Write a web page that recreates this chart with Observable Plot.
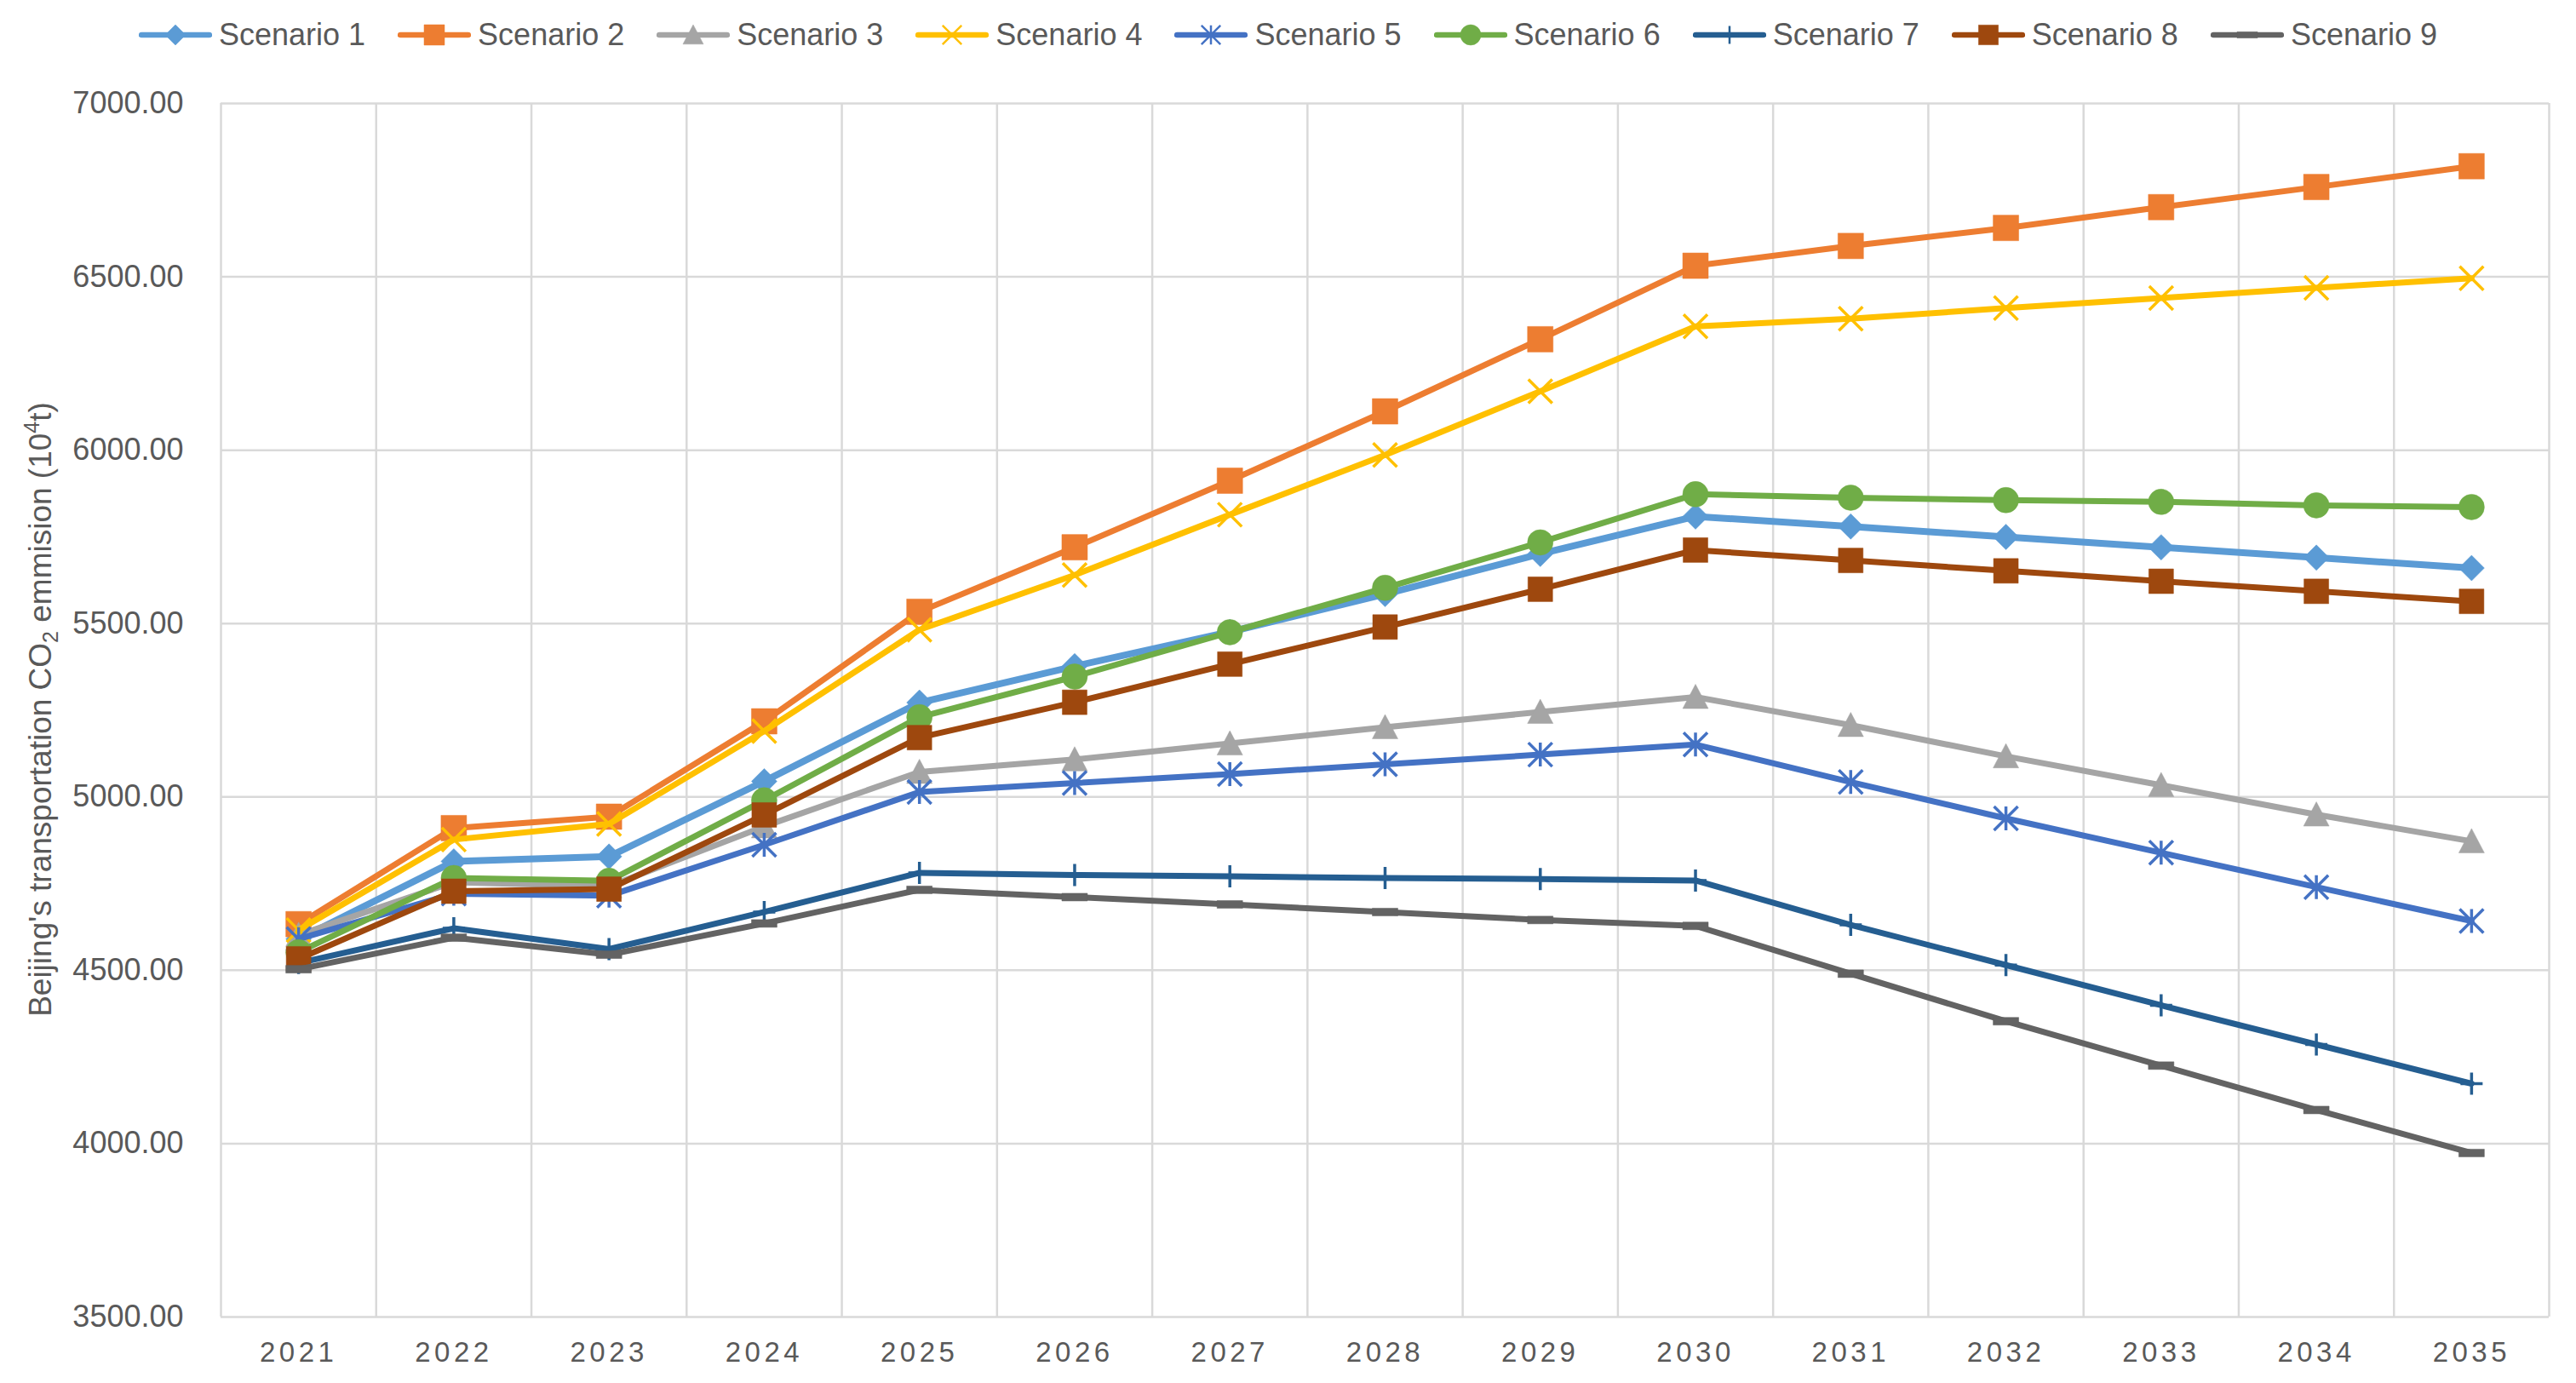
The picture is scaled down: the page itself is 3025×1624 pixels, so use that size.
<!DOCTYPE html>
<html>
<head>
<meta charset="utf-8">
<script src="https://cdn.jsdelivr.net/npm/d3@7"></script>
<script src="https://cdn.jsdelivr.net/npm/@observablehq/plot@0.6"></script>
<style>
  html, body { margin: 0; padding: 0; background: #ffffff; }
  #wrap { position: relative; width: 3025px; height: 1624px; overflow: hidden;
          font-family: "Liberation Sans", Arial, sans-serif; color: #595959; background: #fff; }
  #legend { height: 82px; display: flex; justify-content: center; align-items: center; gap: 38px; }
  .item { display: flex; align-items: center; }
  .item span { font-size: 36px; margin-left: 8px; color: #595959; white-space: nowrap; }
  #ytitle { position: absolute; left: 47px; top: 833px; transform: translate(-50%, -50%) rotate(-90deg);
            font-size: 37px; white-space: nowrap; line-height: 1; color: #595959; }
  #ytitle sub, #ytitle sup { font-size: 25px; line-height: 0; }
  #chart svg { display: block; }
</style>
</head>
<body>
<div id="wrap">
  <div id="legend"></div>
  <div id="chart"></div>
  <div id="ytitle">Beijing's transportation CO<sub>2</sub> emmision (10<sup>4</sup>t)</div>
</div>
<script>
// ---------- data ----------
const years = [2021, 2022, 2023, 2024, 2025, 2026, 2027, 2028, 2029, 2030, 2031, 2032, 2033, 2034, 2035];
const yTicks = [3500, 4000, 4500, 5000, 5500, 6000, 6500, 7000];
const scenarioNames = ["Scenario 1", "Scenario 2", "Scenario 3", "Scenario 4", "Scenario 5",
                       "Scenario 6", "Scenario 7", "Scenario 8", "Scenario 9"];
const scenario1 = [4590, 4814, 4828, 5045, 5272, 5377, 5476, 5585, 5701, 5809, 5780, 5750, 5720, 5690, 5660];
const scenario2 = [4633, 4910, 4943, 5218, 5534, 5720, 5912, 6112, 6320, 6532, 6589, 6641, 6701, 6759, 6819];
const scenario3 = [4602, 4754, 4742, 4915, 5072, 5108, 5154, 5201, 5245, 5288, 5207, 5117, 5034, 4949, 4872];
const scenario4 = [4616, 4877, 4922, 5190, 5482, 5640, 5814, 5986, 6170, 6357, 6379, 6410, 6439, 6468, 6496];
const scenario5 = [4590, 4721, 4715, 4862, 5014, 5040, 5066, 5094, 5122, 5151, 5043, 4938, 4839, 4740, 4642];
const scenario6 = [4552, 4766, 4758, 4990, 5230, 5347, 5475, 5603, 5734, 5873, 5863, 5856, 5851, 5841, 5836];
const scenario7 = [4521, 4621, 4561, 4668, 4781, 4775, 4771, 4766, 4763, 4759, 4631, 4515, 4399, 4286, 4173];
const scenario8 = [4533, 4728, 4734, 4948, 5171, 5273, 5383, 5490, 5599, 5712, 5682, 5652, 5622, 5593, 5564];
const scenario9 = [4503, 4594, 4545, 4635, 4732, 4711, 4690, 4668, 4645, 4628, 4490, 4353, 4225, 4097, 3973];
const seriesValues = [scenario1, scenario2, scenario3, scenario4, scenario5, scenario6, scenario7, scenario8, scenario9];

// ---------- marker shapes (Excel-like) ----------
const rad = size => Math.sqrt(size / Math.PI);
const symDiamond = {draw(c, s) { const r = rad(s); c.moveTo(0, -r); c.lineTo(r, 0); c.lineTo(0, r); c.lineTo(-r, 0); c.closePath(); }};
const symSquare = {draw(c, s) { const r = rad(s); c.rect(-r, -r, 2 * r, 2 * r); }};
const symTriangle = {draw(c, s) { const r = rad(s); c.moveTo(0, -r); c.lineTo(r, r * 0.9); c.lineTo(-r, r * 0.9); c.closePath(); }};
const symTimes = {draw(c, s) { const r = rad(s); c.moveTo(-r, -r); c.lineTo(r, r); c.moveTo(-r, r); c.lineTo(r, -r); }};
const symStar = {draw(c, s) { const r = rad(s); c.moveTo(-r, -r); c.lineTo(r, r); c.moveTo(-r, r); c.lineTo(r, -r); c.moveTo(0, -r); c.lineTo(0, r); }};
const symCircle = {draw(c, s) { const r = rad(s); c.moveTo(r, 0); c.arc(0, 0, r, 0, 2 * Math.PI); }};
const symPlus = {draw(c, s) { const r = rad(s); c.moveTo(-r, 0); c.lineTo(r, 0); c.moveTo(0, -r); c.lineTo(0, r); }};
const symDash = {draw(c, s) { const r = rad(s); const h = r * 0.3; c.rect(-r, -h, 2 * r, 2 * h); }};

const styles = [
  {color: "#5B9BD5", lw: 8, sym: symDiamond, r: 15, filled: true},
  {color: "#ED7D31", lw: 7, sym: symSquare, r: 15, filled: true},
  {color: "#A5A5A5", lw: 7, sym: symTriangle, r: 15, filled: true},
  {color: "#FFC000", lw: 7, sym: symTimes, r: 14, filled: false},
  {color: "#4472C4", lw: 7, sym: symStar, r: 14, filled: false},
  {color: "#70AD47", lw: 7, sym: symCircle, r: 15, filled: true},
  {color: "#255E91", lw: 7, sym: symPlus, r: 13, filled: false},
  {color: "#9E480E", lw: 7, sym: symSquare, r: 14.5, filled: true},
  {color: "#636363", lw: 7, sym: symDash, r: 15, filled: true}
];

// ---------- build tables ----------
const tables = seriesValues.map((vals, k) => years.map((yr, i) => ({year: yr, value: vals[i], name: scenarioNames[k]})));
const gridX = years.map(y => y - 0.5).concat([years[years.length - 1] + 0.5]);

const seriesMarks = tables.flatMap((rows, k) => {
  const st = styles[k];
  return [
    Plot.line(rows, {x: "year", y: "value", stroke: st.color, strokeWidth: st.lw, strokeLinejoin: "round", strokeLinecap: "round"}),
    Plot.dot(rows, {x: "year", y: "value", symbol: st.sym, r: st.r,
      fill: st.filled ? st.color : "none", stroke: st.color, strokeWidth: st.filled ? 0.5 : 3.5})
  ];
});

const chart = Plot.plot({
  width: 3025,
  height: 1542,
  marginLeft: 259,
  marginRight: 32,
  marginTop: 39,
  marginBottom: 78,
  style: {fontFamily: '"Liberation Sans", Arial, sans-serif', color: "#595959", background: "#ffffff"},
  x: {type: "linear", domain: [years[0] - 0.5, years[years.length - 1] + 0.5]},
  y: {domain: [yTicks[0], yTicks[yTicks.length - 1]]},
  marks: [
    Plot.ruleY(yTicks, {stroke: "#D9D9D9", strokeWidth: 2.5}),
    Plot.ruleX(gridX, {stroke: "#D9D9D9", strokeWidth: 2.5}),
    Plot.axisY({ticks: yTicks, tickFormat: d => d.toFixed(2), tickSize: 0, tickPadding: 44, fontSize: 36, label: null}),
    Plot.axisX({ticks: years, tickFormat: d => String(d), tickSize: 0, tickPadding: 29, fontSize: 33, label: null}),
    ...seriesMarks
  ]
});
document.getElementById("chart").appendChild(chart);
d3.select(chart).selectAll('g[aria-label="x-axis tick label"] text').style("letter-spacing", "4.5px");

// ---------- legend ----------
const legend = d3.select("#legend");
scenarioNames.forEach((name, k) => {
  const st = styles[k];
  const item = legend.append("div").attr("class", "item");
  const svg = item.append("svg").attr("width", 86).attr("height", 30);
  svg.append("line").attr("x1", 3).attr("x2", 83).attr("y1", 15).attr("y2", 15)
    .attr("stroke", st.color).attr("stroke-width", 6.5).attr("stroke-linecap", "round");
  const rr = st.r * 0.8;
  svg.append("path").attr("transform", "translate(43,15)")
    .attr("d", d3.symbol(st.sym, Math.PI * rr * rr)())
    .attr("fill", st.filled ? st.color : "none").attr("stroke", st.color).attr("stroke-width", st.filled ? 0.5 : 2.5);
  item.append("span").text(name);
});
</script>
</body>
</html>
